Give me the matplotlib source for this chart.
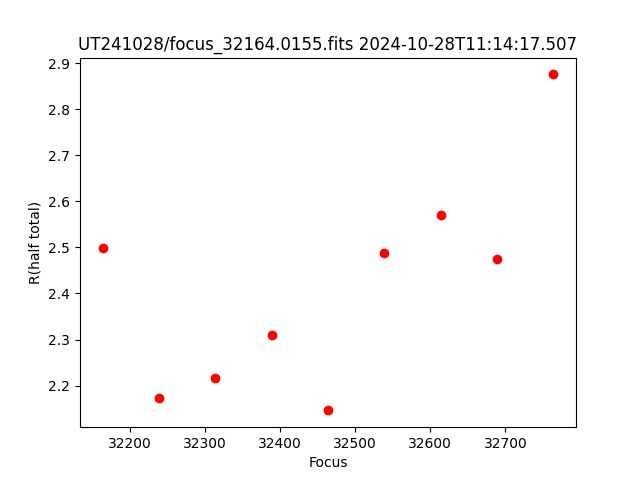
import matplotlib
matplotlib.use('Agg')
import matplotlib.pyplot as plt

# focus positions and measured radius
focus = [32164, 32239, 32314, 32389, 32464, 32539, 32614, 32689, 32764]
r_half = [2.498, 2.174, 2.217, 2.309, 2.146, 2.489, 2.570, 2.476, 2.876]

fig, ax = plt.subplots(figsize=(6.4, 4.8), dpi=100)
ax.plot(focus, r_half, 'ro')
ax.set_xlabel('Focus')
ax.set_ylabel('R(half total)')
ax.set_title('UT241028/focus_32164.0155.fits 2024-10-28T11:14:17.507')
plt.savefig('out.png')
